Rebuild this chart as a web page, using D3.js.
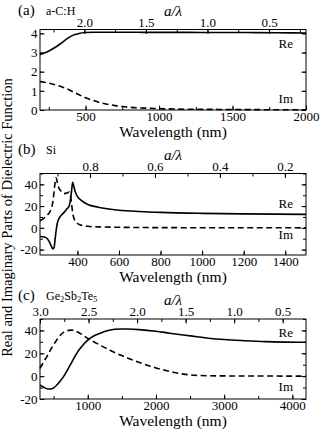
<!DOCTYPE html>
<html>
<head>
<meta charset="utf-8">
<script src="https://cdn.jsdelivr.net/npm/d3@7"></script>
<style>
  body { margin: 0; background: #fff; }
</style>
</head>
<body>
<svg id="chart" width="320" height="436" font-family="'Liberation Serif', 'Times New Roman', serif"></svg>
<script>
// ---- (a) a-C:H ----
var wavesA = [190, 220, 260, 300, 340, 380, 420, 460, 500, 550, 600, 650, 700, 750, 800, 900, 1000, 1200, 1400, 1600, 1800, 2000];
var reA = [2.9, 2.98, 3.12, 3.3, 3.52, 3.75, 3.92, 4.0, 4.04, 4.06, 4.06, 4.06, 4.06, 4.06, 4.06, 4.05, 4.05, 4.05, 4.04, 4.04, 4.03, 4.02];
var imA = [1.48, 1.45, 1.38, 1.3, 1.2, 1.08, 0.93, 0.78, 0.64, 0.5, 0.38, 0.3, 0.23, 0.18, 0.14, 0.1, 0.07, 0.04, 0.03, 0.02, 0.015, 0.01];
var xTicksA = [500, 1000, 1500, 2000];
var yTicksA = [0, 1, 2, 3, 4];
var topTicksA = [2.0, 1.5, 1.0, 0.5];

// ---- (b) Si ----
var wavesB = [220, 240, 255, 265, 275, 282, 288, 293, 298, 303, 310, 320, 335, 350, 360, 366, 372, 377, 383, 390, 400, 420, 450, 500, 600, 700, 800, 1000, 1200, 1500];
var reB = [-8, -8.5, -10, -13, -17, -19.5, -18, -10, -2, 4, 8, 11, 14, 17.5, 20, 25, 34, 42, 38, 33, 29, 25, 21.5, 19, 16.2, 15, 14.2, 13.3, 12.8, 12.4];
var imB = [6.5, 9, 11.5, 14, 18, 24, 34, 42, 46, 42, 37, 34, 31.5, 32, 33, 30, 22, 14, 9, 6, 4, 2.3, 1.4, 0.9, 0.5, 0.3, 0.2, 0.1, 0.05, 0];
var xTicksB = [400, 600, 800, 1000, 1200, 1400];
var yTicksB = [-20, 0, 20, 40];
var topTicksB = [0.8, 0.6, 0.4, 0.2];

// ---- (c) Ge2Sb2Te5 ----
var wavesC = [300, 350, 400, 450, 500, 550, 600, 650, 700, 750, 800, 850, 900, 950, 1000, 1100, 1200, 1300, 1400, 1500, 1600, 1800, 2000, 2200, 2400, 2600, 2800, 3000, 3300, 3600, 3900, 4200];
var reC = [-7.8, -9.5, -11, -11.3, -10.2, -7.5, -4, 0, 5, 10.5, 16, 21, 25, 28.5, 31.5, 35.5, 38, 40, 41, 41.3, 41.3, 40.5, 39.3, 37.6, 36, 34.5, 33, 32, 31, 30.2, 29.8, 29.6];
var imC = [6.8, 12, 17, 22.5, 27.5, 32, 36, 38.5, 39.8, 40.3, 40, 38.7, 37, 35, 33, 29.7, 26.5, 23.5, 20.5, 18, 15.5, 11, 7.2, 4.2, 1.8, 0.7, 0.3, 0.2, 0.1, 0.1, 0.05, 0];
var xTicksC = [1000, 2000, 3000, 4000];
var yTicksC = [-20, 0, 20, 40];
var topTicksC = [3.0, 2.5, 2.0, 1.5, 1.0, 0.5];

var svg = d3.select("#chart");
var L = 40, R = 306;
var serif = "'Liberation Serif', 'Times New Roman', serif";

var panels = [
  { tag: "(a)", name: "a-C:H", top: 29.5, bottom: 110, tagY: 15,
    xDom: [190, 2000], yDom: [0, 4.2], topDom: [2.36, 0.2],
    waves: wavesA, re: reA, im: imA,
    xTicks: xTicksA, xStep: 250, yTicks: yTicksA, yStep: 1,
    topTicks: topTicksA, topStep: 0.25, reAt: 3.25, imAt: 0.37 },
  { tag: "(b)", name: "Si", top: 173.5, bottom: 255, tagY: 154,
    xDom: [220, 1500], yDom: [-25, 50], topDom: [0.954, 0.135],
    waves: wavesB, re: reB, im: imB,
    xTicks: xTicksB, xStep: 200, yTicks: yTicksB, yStep: 10,
    topTicks: topTicksB, topStep: 0.1, reAt: 18, imAt: -10.5 },
  { tag: "(c)", name: "Ge2Sb2Te5", top: 319, bottom: 399, tagY: 300,
    xDom: [300, 4200], yDom: [-20, 50], topDom: [3.0, 0.26],
    waves: wavesC, re: reC, im: imC,
    xTicks: xTicksC, xStep: 500, yTicks: yTicksC, yStep: 10,
    topTicks: topTicksC, topStep: 0.25, reAt: 34, imAt: -13 }
];

// minor tick values between domain ends
function steps(dom, step) {
  var lo = Math.min(dom[0], dom[1]), hi = Math.max(dom[0], dom[1]), out = [];
  for (var v = Math.ceil(lo / step - 1e-9) * step; v <= hi + 1e-9; v += step) out.push(+v.toFixed(4));
  return out;
}

function clean(g) {
  g.attr("font-family", serif).attr("font-size", 13);
  g.select(".domain").remove();
  g.selectAll("line").attr("stroke", "#000");
}

panels.forEach(function(p) {
  var g = svg.append("g");
  var x = d3.scaleLinear().domain(p.xDom).range([L, R]);
  var y = d3.scaleLinear().domain(p.yDom).range([p.bottom, p.top]);
  var xt = d3.scaleLinear().domain(p.topDom).range([L, R]);

  // minor ticks (no labels)
  g.append("g").attr("transform", "translate(0," + p.bottom + ")")
    .call(d3.axisBottom(x).tickValues(steps(p.xDom, p.xStep)).tickSize(-3).tickFormat("")).call(clean);
  g.append("g").attr("transform", "translate(0," + p.top + ")")
    .call(d3.axisTop(xt).tickValues(steps(p.topDom, p.topStep)).tickSize(-3).tickFormat("")).call(clean);
  g.append("g").attr("transform", "translate(" + L + ",0)")
    .call(d3.axisLeft(y).tickValues(steps(p.yDom, p.yStep)).tickSize(-3).tickFormat("")).call(clean);
  g.append("g").attr("transform", "translate(" + R + ",0)")
    .call(d3.axisRight(y).tickValues(steps(p.yDom, p.yStep)).tickSize(-3).tickFormat("")).call(clean);

  // major ticks, inward
  g.append("g").attr("transform", "translate(0," + p.bottom + ")")
    .call(d3.axisBottom(x).tickValues(p.xTicks).tickSizeInner(-4.5).tickSizeOuter(0).tickPadding(1.5).tickFormat(d3.format("d")))
    .call(clean);
  g.append("g").attr("transform", "translate(0," + p.top + ")")
    .call(d3.axisTop(xt).tickValues(p.topTicks).tickSizeInner(-4.5).tickSizeOuter(0).tickPadding(3).tickFormat(d3.format(".1f")))
    .call(clean);
  g.append("g").attr("transform", "translate(" + L + ",0)")
    .call(d3.axisLeft(y).tickValues(p.yTicks).tickSizeInner(-4.5).tickSizeOuter(0).tickPadding(2.5).tickFormat(function(d) { return String(d); }))
    .call(clean);
  g.append("g").attr("transform", "translate(" + R + ",0)")
    .call(d3.axisRight(y).tickValues(p.yTicks).tickSizeInner(-4.5).tickSizeOuter(0).tickFormat(""))
    .call(clean);

  // frame
  g.append("rect").attr("x", L).attr("y", p.top).attr("width", R - L).attr("height", p.bottom - p.top)
    .attr("fill", "none").attr("stroke", "#000").attr("stroke-width", 1);

  var line = d3.line().curve(d3.curveMonotoneX)
    .x(function(d, i) { return x(p.waves[i]); })
    .y(function(d) { return y(d); });

  g.append("path").datum(p.re).attr("d", line)
    .attr("fill", "none").attr("stroke", "#000").attr("stroke-width", 1.6);
  g.append("path").datum(p.im).attr("d", line)
    .attr("fill", "none").attr("stroke", "#000").attr("stroke-width", 1.6).attr("stroke-dasharray", "6,3.5");

  g.append("text").attr("x", R - 13).attr("y", y(p.reAt)).attr("text-anchor", "end").attr("font-size", 13).text("Re");
  g.append("text").attr("x", R - 13).attr("y", y(p.imAt)).attr("text-anchor", "end").attr("font-size", 13).text("Im");

  // panel tag and material
  g.append("text").attr("x", 18).attr("y", p.tagY).attr("font-size", 15).text(p.tag);
  var nm = g.append("text").attr("x", 46).attr("y", p.tagY).attr("font-size", 12);
  if (p.name === "Ge2Sb2Te5") {
    nm.append("tspan").text("Ge");
    nm.append("tspan").attr("dy", 2).attr("font-size", 8.5).text("2");
    nm.append("tspan").attr("dy", -2).text("Sb");
    nm.append("tspan").attr("dy", 2).attr("font-size", 8.5).text("2");
    nm.append("tspan").attr("dy", -2).text("Te");
    nm.append("tspan").attr("dy", 2).attr("font-size", 8.5).text("5");
  } else {
    nm.text(p.name);
  }

  // top axis title
  g.append("text").attr("x", (L + R) / 2).attr("y", p.top - 14).attr("text-anchor", "middle")
    .attr("font-size", 15).attr("font-style", "italic").text("a/\u03bb");

  // bottom axis title
  g.append("text").attr("x", (L + R) / 2).attr("y", p.bottom + 27).attr("text-anchor", "middle")
    .attr("font-size", 15.5).text("Wavelength (nm)");
});

svg.append("text").attr("transform", "translate(12,217.5) rotate(-90)").attr("text-anchor", "middle")
  .attr("font-size", 14.5).text("Real and Imaginary Parts of Dielectric Function");
</script>
</body>
</html>
